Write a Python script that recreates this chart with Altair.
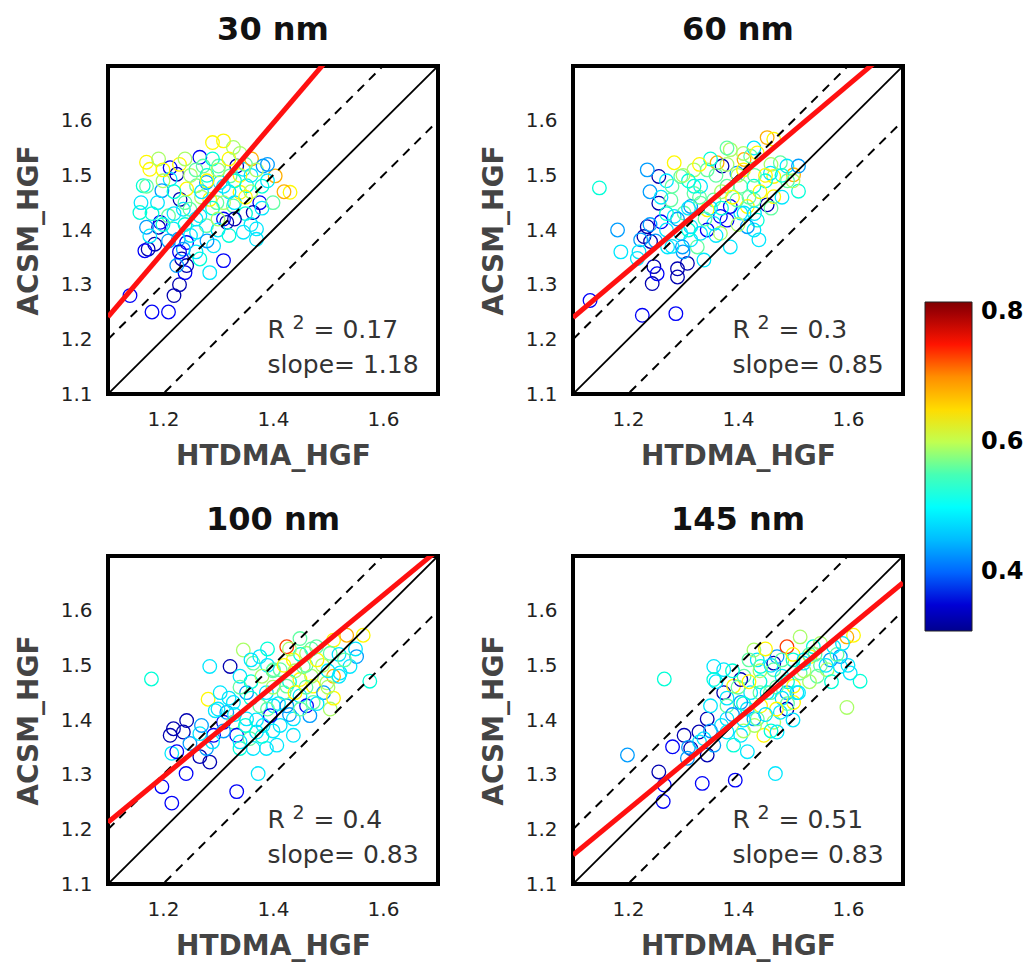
import altair as alt
import pandas as pd

FONT = "DejaVu Sans"

titles = ["30 nm", "60 nm", "100 nm", "145 nm"]
slopes = [1.18, 0.85, 0.83, 0.83]
intercepts = [-0.057, 0.305, 0.30, 0.24]
r2_values = ["0.17", "0.3", "0.4", "0.51"]

# ---- panel 1 (30 nm)
p1_x = [1.14, 1.18, 1.21, 1.22, 1.23, 1.24, 1.234, 1.243, 1.225, 1.267, 1.31, 1.285, 1.173, 1.185, 1.167,
        1.192, 1.195, 1.17, 1.176, 1.158, 1.164, 1.176, 1.17, 1.192, 1.213, 1.225, 1.213, 1.198, 1.231, 1.237,
        1.267, 1.273, 1.301, 1.31, 1.328, 1.334, 1.346, 1.361, 1.382, 1.404, 1.431, 1.376, 1.364, 1.37, 1.37,
        1.346, 1.316, 1.31, 1.298, 1.279, 1.261, 1.243, 1.249, 1.267, 1.279, 1.261, 1.243, 1.228, 1.219, 1.21,
        1.237, 1.292, 1.328, 1.34, 1.352, 1.322, 1.304, 1.285, 1.25, 1.29, 1.32, 1.27, 1.22, 1.30, 1.35,
        1.34, 1.26, 1.19, 1.42, 1.39, 1.33, 1.16, 1.28, 1.31, 1.24, 1.36]
p1_y = [1.28, 1.25, 1.25, 1.28, 1.30, 1.322, 1.347, 1.335, 1.335, 1.347, 1.344, 1.322, 1.365, 1.374, 1.362,
        1.405, 1.414, 1.405, 1.389, 1.432, 1.481, 1.511, 1.524, 1.53, 1.514, 1.502, 1.493, 1.472, 1.456, 1.438,
        1.533, 1.517, 1.517, 1.563, 1.551, 1.517, 1.511, 1.53, 1.517, 1.499, 1.469, 1.45, 1.432, 1.402, 1.383,
        1.396, 1.414, 1.42, 1.45, 1.487, 1.481, 1.475, 1.438, 1.426, 1.408, 1.396, 1.377, 1.383, 1.402, 1.426,
        1.365, 1.371, 1.444, 1.469, 1.481, 1.499, 1.487, 1.456, 1.50, 1.53, 1.47, 1.46, 1.47, 1.40, 1.43,
        1.50, 1.42, 1.45, 1.47, 1.49, 1.42, 1.45, 1.50, 1.45, 1.41, 1.47]
p1_c = [0.37, 0.37, 0.37, 0.33, 0.33, 0.37, 0.33, 0.33, 0.43, 0.53, 0.37, 0.48, 0.33, 0.33, 0.37,
        0.33, 0.37, 0.43, 0.48, 0.53, 0.53, 0.63, 0.63, 0.59, 0.37, 0.33, 0.48, 0.43, 0.33, 0.48,
        0.37, 0.56, 0.56, 0.63, 0.59, 0.33, 0.48, 0.68, 0.43, 0.68, 0.63, 0.37, 0.33, 0.48, 0.48,
        0.48, 0.33, 0.37, 0.56, 0.43, 0.56, 0.63, 0.56, 0.48, 0.56, 0.48, 0.37, 0.43, 0.48, 0.56,
        0.43, 0.48, 0.56, 0.63, 0.53, 0.56, 0.48, 0.63, 0.59, 0.53, 0.48, 0.59, 0.53, 0.48, 0.53,
        0.63, 0.48, 0.48, 0.68, 0.48, 0.33, 0.48, 0.53, 0.59, 0.53, 0.59]
p1_core_x = [1.20, 1.23, 1.26, 1.28, 1.30, 1.32, 1.33, 1.35, 1.36, 1.38, 1.37, 1.31, 1.29, 1.27, 1.24, 1.22,
             1.20, 1.25, 1.28, 1.30, 1.33, 1.35, 1.38, 1.40, 1.36, 1.32, 1.26, 1.23, 1.21, 1.18, 1.17, 1.20,
             1.24, 1.29, 1.34, 1.39]
p1_core_y = [1.49, 1.52, 1.51, 1.49, 1.51, 1.53, 1.49, 1.52, 1.50, 1.48, 1.51, 1.48, 1.44, 1.47, 1.45, 1.43,
             1.41, 1.39, 1.38, 1.42, 1.45, 1.46, 1.44, 1.45, 1.41, 1.39, 1.36, 1.36, 1.38, 1.43, 1.48, 1.51,
             1.53, 1.56, 1.54, 1.52]
p1_core_c = [0.59, 0.63, 0.56, 0.63, 0.59, 0.63, 0.53, 0.56, 0.48, 0.53, 0.59, 0.48, 0.53, 0.48, 0.56, 0.48,
             0.53, 0.48, 0.43, 0.59, 0.48, 0.63, 0.48, 0.56, 0.48, 0.53, 0.48, 0.37, 0.43, 0.53, 0.56, 0.63,
             0.59, 0.63, 0.59, 0.43]

# ---- panel 2 (60 nm)
p2_x = [1.131, 1.148, 1.181, 1.187, 1.217, 1.226, 1.287, 1.244, 1.247, 1.253, 1.29, 1.308, 1.29, 1.235, 1.229,
        1.241, 1.256, 1.256, 1.235, 1.26, 1.223, 1.278, 1.284, 1.272, 1.296, 1.302, 1.314, 1.326, 1.338, 1.32,
        1.296, 1.284, 1.344, 1.362, 1.371, 1.398, 1.411, 1.386, 1.429, 1.423, 1.435, 1.453, 1.465, 1.477, 1.465,
        1.459, 1.489, 1.501, 1.51, 1.51, 1.453, 1.465, 1.429, 1.417, 1.405, 1.38, 1.386, 1.368, 1.356, 1.344,
        1.332, 1.356, 1.38, 1.405, 1.429, 1.332, 1.32, 1.332, 1.344, 1.314, 1.435, 1.429, 1.438, 1.411, 1.386,
        1.368, 1.314, 1.299, 1.398, 1.417, 1.37, 1.31, 1.40, 1.45, 1.49, 1.35, 1.27, 1.24, 1.30]
p2_y = [1.271, 1.477, 1.40, 1.36, 1.348, 1.244, 1.247, 1.302, 1.333, 1.32, 1.329, 1.339, 1.314, 1.406, 1.388,
        1.379, 1.449, 1.498, 1.51, 1.415, 1.382, 1.455, 1.425, 1.369, 1.394, 1.431, 1.406, 1.369, 1.345, 1.51,
        1.498, 1.523, 1.51, 1.523, 1.517, 1.504, 1.529, 1.547, 1.55, 1.535, 1.541, 1.569, 1.566, 1.523, 1.498,
        1.504, 1.517, 1.501, 1.517, 1.471, 1.446, 1.461, 1.455, 1.443, 1.431, 1.418, 1.443, 1.425, 1.412, 1.40,
        1.394, 1.455, 1.48, 1.48, 1.48, 1.48, 1.467, 1.449, 1.437, 1.443, 1.418, 1.40, 1.382, 1.431, 1.369,
        1.394, 1.382, 1.369, 1.455, 1.406, 1.47, 1.49, 1.50, 1.49, 1.49, 1.53, 1.49, 1.47, 1.36]
p2_c = [0.37, 0.53, 0.43, 0.48, 0.48, 0.37, 0.37, 0.33, 0.33, 0.37, 0.33, 0.33, 0.33, 0.33, 0.33,
        0.33, 0.33, 0.33, 0.43, 0.37, 0.43, 0.56, 0.48, 0.48, 0.48, 0.56, 0.48, 0.56, 0.48, 0.59,
        0.56, 0.63, 0.56, 0.68, 0.33, 0.43, 0.68, 0.59, 0.48, 0.56, 0.63, 0.68, 0.63, 0.56, 0.63,
        0.48, 0.48, 0.68, 0.43, 0.53, 0.33, 0.63, 0.56, 0.63, 0.48, 0.37, 0.37, 0.37, 0.48, 0.37,
        0.48, 0.56, 0.56, 0.56, 0.53, 0.48, 0.56, 0.56, 0.63, 0.43, 0.53, 0.48, 0.48, 0.48, 0.48,
        0.59, 0.48, 0.43, 0.56, 0.43, 0.59, 0.53, 0.59, 0.53, 0.56, 0.53, 0.48, 0.43, 0.43]
p2_core_x = [1.26, 1.28, 1.30, 1.33, 1.36, 1.38, 1.41, 1.43, 1.46, 1.48, 1.44, 1.42, 1.39, 1.37, 1.35, 1.33,
             1.31, 1.29, 1.27, 1.25, 1.28, 1.31, 1.34, 1.36, 1.40, 1.43, 1.46, 1.48, 1.45, 1.41, 1.38, 1.32,
             1.27, 1.24, 1.22, 1.50]
p2_core_y = [1.46, 1.48, 1.50, 1.52, 1.50, 1.52, 1.51, 1.50, 1.52, 1.50, 1.47, 1.46, 1.46, 1.44, 1.44, 1.46,
             1.44, 1.42, 1.40, 1.38, 1.37, 1.40, 1.42, 1.39, 1.41, 1.43, 1.44, 1.46, 1.50, 1.54, 1.55, 1.48,
             1.43, 1.41, 1.36, 1.49]
p2_core_c = [0.48, 0.56, 0.59, 0.63, 0.56, 0.59, 0.63, 0.56, 0.59, 0.53, 0.63, 0.56, 0.63, 0.53, 0.48, 0.56,
             0.48, 0.43, 0.48, 0.43, 0.48, 0.53, 0.56, 0.48, 0.59, 0.48, 0.56, 0.48, 0.63, 0.59, 0.56, 0.53,
             0.53, 0.43, 0.48, 0.59]

# ---- panel 3 (100 nm)
p3_x = [1.179, 1.198, 1.216, 1.334, 1.373, 1.242, 1.213, 1.219, 1.243, 1.237, 1.249, 1.267, 1.285, 1.279, 1.292,
        1.216, 1.225, 1.267, 1.285, 1.322, 1.282, 1.304, 1.316, 1.31, 1.295, 1.328, 1.334, 1.34, 1.358, 1.37,
        1.352, 1.376, 1.388, 1.352, 1.34, 1.364, 1.346, 1.376, 1.401, 1.425, 1.449, 1.437, 1.461, 1.479, 1.51,
        1.504, 1.534, 1.564, 1.552, 1.54, 1.522, 1.576, 1.51, 1.498, 1.473, 1.449, 1.425, 1.401, 1.425, 1.449,
        1.461, 1.492, 1.504, 1.467, 1.437, 1.413, 1.395, 1.382, 1.437, 1.407, 1.364, 1.473, 1.328, 1.413, 1.455,
        1.388, 1.47, 1.43, 1.40, 1.39, 1.45, 1.49, 1.52, 1.36, 1.42, 1.51]
p3_y = [1.475, 1.278, 1.248, 1.269, 1.302, 1.302, 1.372, 1.384, 1.399, 1.378, 1.357, 1.333, 1.323, 1.348, 1.372,
        1.339, 1.342, 1.375, 1.498, 1.498, 1.438, 1.45, 1.414, 1.396, 1.417, 1.396, 1.372, 1.348, 1.366, 1.378,
        1.402, 1.426, 1.45, 1.45, 1.48, 1.504, 1.528, 1.516, 1.492, 1.534, 1.549, 1.51, 1.522, 1.534, 1.546,
        1.522, 1.555, 1.555, 1.516, 1.498, 1.486, 1.471, 1.48, 1.468, 1.462, 1.474, 1.462, 1.426, 1.426, 1.444,
        1.426, 1.45, 1.42, 1.408, 1.402, 1.39, 1.408, 1.39, 1.372, 1.354, 1.348, 1.432, 1.432, 1.492, 1.498,
        1.348, 1.48, 1.47, 1.46, 1.50, 1.52, 1.50, 1.52, 1.44, 1.45, 1.44]
p3_c = [0.53, 0.37, 0.37, 0.37, 0.48, 0.37, 0.33, 0.33, 0.33, 0.33, 0.43, 0.33, 0.33, 0.43, 0.37,
        0.48, 0.37, 0.48, 0.48, 0.33, 0.63, 0.48, 0.43, 0.37, 0.48, 0.56, 0.37, 0.53, 0.56, 0.48,
        0.48, 0.56, 0.48, 0.43, 0.48, 0.56, 0.59, 0.48, 0.56, 0.74, 0.56, 0.63, 0.59, 0.56, 0.63,
        0.56, 0.68, 0.63, 0.43, 0.48, 0.48, 0.53, 0.68, 0.59, 0.63, 0.63, 0.56, 0.48, 0.43, 0.48,
        0.37, 0.43, 0.59, 0.43, 0.48, 0.48, 0.37, 0.48, 0.48, 0.48, 0.48, 0.56, 0.48, 0.56, 0.56,
        0.48, 0.59, 0.53, 0.59, 0.48, 0.53, 0.59, 0.48, 0.53, 0.56, 0.63]
p3_core_x = [1.32, 1.34, 1.36, 1.38, 1.40, 1.42, 1.44, 1.46, 1.48, 1.50, 1.53, 1.55, 1.46, 1.44, 1.41, 1.39,
             1.37, 1.35, 1.33, 1.31, 1.29, 1.30, 1.34, 1.38, 1.40, 1.43, 1.45, 1.48, 1.50, 1.47, 1.43, 1.39,
             1.36, 1.52, 1.27]
p3_core_y = [1.44, 1.46, 1.47, 1.48, 1.49, 1.50, 1.49, 1.50, 1.51, 1.49, 1.51, 1.53, 1.46, 1.45, 1.43, 1.42,
             1.40, 1.39, 1.41, 1.38, 1.36, 1.42, 1.36, 1.37, 1.38, 1.41, 1.42, 1.43, 1.46, 1.53, 1.53, 1.53,
             1.51, 1.48, 1.39]
p3_core_c = [0.48, 0.56, 0.53, 0.59, 0.56, 0.63, 0.59, 0.56, 0.63, 0.48, 0.56, 0.48, 0.56, 0.63, 0.48, 0.56,
             0.48, 0.53, 0.48, 0.43, 0.48, 0.48, 0.48, 0.53, 0.48, 0.43, 0.56, 0.48, 0.59, 0.56, 0.59, 0.53,
             0.48, 0.48, 0.43]

# ---- panel 4 (145 nm)
p4_x = [1.199, 1.266, 1.256, 1.266, 1.264, 1.335, 1.395, 1.468, 1.281, 1.302, 1.314, 1.308, 1.329, 1.344, 1.338,
        1.344, 1.356, 1.35, 1.356, 1.374, 1.356, 1.374, 1.38, 1.38, 1.392, 1.405, 1.417, 1.429, 1.417, 1.405,
        1.392, 1.411, 1.435, 1.441, 1.465, 1.471, 1.465, 1.453, 1.441, 1.435, 1.447, 1.465, 1.471, 1.489, 1.489,
        1.477, 1.501, 1.513, 1.489, 1.513, 1.537, 1.531, 1.519, 1.544, 1.568, 1.586, 1.598, 1.61, 1.574, 1.562,
        1.586, 1.604, 1.622, 1.598, 1.429, 1.405, 1.423, 1.38, 1.507, 1.459, 1.501, 1.49, 1.52, 1.47, 1.55,
        1.44, 1.41, 1.48, 1.53, 1.50]
p4_y = [1.336, 1.475, 1.305, 1.281, 1.251, 1.284, 1.29, 1.302, 1.351, 1.372, 1.348, 1.33, 1.378, 1.402, 1.366,
        1.336, 1.354, 1.426, 1.498, 1.492, 1.474, 1.45, 1.402, 1.378, 1.354, 1.372, 1.342, 1.402, 1.42, 1.432,
        1.462, 1.48, 1.51, 1.498, 1.504, 1.516, 1.492, 1.45, 1.426, 1.402, 1.372, 1.396, 1.378, 1.45, 1.42,
        1.414, 1.462, 1.486, 1.534, 1.552, 1.534, 1.516, 1.504, 1.48, 1.51, 1.516, 1.552, 1.555, 1.534, 1.492,
        1.498, 1.486, 1.471, 1.423, 1.528, 1.474, 1.45, 1.426, 1.45, 1.45, 1.432, 1.47, 1.49, 1.46, 1.50,
        1.47, 1.38, 1.44, 1.52, 1.51]
p4_c = [0.43, 0.53, 0.33, 0.37, 0.37, 0.37, 0.37, 0.48, 0.37, 0.33, 0.33, 0.43, 0.33, 0.33, 0.48,
        0.33, 0.43, 0.48, 0.48, 0.48, 0.53, 0.33, 0.48, 0.48, 0.53, 0.48, 0.48, 0.43, 0.48, 0.43,
        0.63, 0.56, 0.48, 0.53, 0.33, 0.43, 0.56, 0.48, 0.63, 0.56, 0.63, 0.59, 0.48, 0.43, 0.33,
        0.48, 0.63, 0.56, 0.74, 0.59, 0.53, 0.63, 0.48, 0.56, 0.43, 0.43, 0.68, 0.63, 0.48, 0.59,
        0.48, 0.48, 0.53, 0.59, 0.59, 0.33, 0.48, 0.56, 0.48, 0.56, 0.63, 0.53, 0.59, 0.56, 0.56,
        0.53, 0.59, 0.48, 0.56, 0.53]
p4_core_x = [1.38, 1.40, 1.42, 1.44, 1.46, 1.48, 1.50, 1.52, 1.54, 1.56, 1.58, 1.60, 1.57, 1.53, 1.51, 1.49,
             1.47, 1.45, 1.43, 1.41, 1.39, 1.37, 1.35, 1.33, 1.31, 1.36, 1.39, 1.42, 1.45, 1.48, 1.44, 1.41,
             1.55, 1.59, 1.50, 1.46]
p4_core_y = [1.44, 1.46, 1.47, 1.49, 1.50, 1.51, 1.52, 1.51, 1.52, 1.50, 1.52, 1.50, 1.47, 1.47, 1.45, 1.43,
             1.42, 1.41, 1.39, 1.40, 1.41, 1.39, 1.38, 1.36, 1.35, 1.47, 1.49, 1.51, 1.53, 1.48, 1.45, 1.43,
             1.54, 1.54, 1.40, 1.38]
p4_core_c = [0.48, 0.56, 0.63, 0.59, 0.48, 0.56, 0.63, 0.48, 0.56, 0.48, 0.56, 0.48, 0.53, 0.59, 0.48, 0.56,
             0.63, 0.48, 0.59, 0.48, 0.43, 0.48, 0.43, 0.48, 0.43, 0.48, 0.53, 0.56, 0.63, 0.48, 0.56, 0.53,
             0.59, 0.48, 0.48, 0.53]

panels_x = [p1_x + p1_core_x, p2_x + p2_core_x, p3_x + p3_core_x, p4_x + p4_core_x]
panels_y = [p1_y + p1_core_y, p2_y + p2_core_y, p3_y + p3_core_y, p4_y + p4_core_y]
panels_c = [p1_c + p1_core_c, p2_c + p2_core_c, p3_c + p3_core_c, p4_c + p4_core_c]

AX_MIN, AX_MAX = 1.1, 1.7
x_ticks = [1.2, 1.4, 1.6]
y_ticks = [1.1, 1.2, 1.3, 1.4, 1.5, 1.6]

# jet colormap
jet_domain = [0.31, 0.373, 0.499, 0.626, 0.752, 0.815]
jet_range = ["#00008f", "#0000ff", "#00ffff", "#ffff00", "#ff0000", "#800000"]


def panel(i):
    pts = pd.DataFrame({"x": panels_x[i], "y": panels_y[i], "v": panels_c[i]})
    xs = [AX_MIN, AX_MAX]
    one = pd.DataFrame({"x": xs, "y": xs})
    dash = pd.DataFrame({
        "x": xs + xs,
        "y": [v + 0.1 for v in xs] + [v - 0.1 for v in xs],
        "k": ["up", "up", "down", "down"],
    })
    fit = pd.DataFrame({"x": xs, "y": [slopes[i] * v + intercepts[i] for v in xs]})

    xsc = alt.Scale(domain=[AX_MIN, AX_MAX], nice=False, zero=False)
    ysc = alt.Scale(domain=[AX_MIN, AX_MAX], nice=False, zero=False)
    xax = alt.Axis(values=x_ticks, format=".1f", title="HTDMA_HGF", grid=False, domain=False,
                   ticks=False, labelFontSize=20, labelColor="#222", labelFont=FONT,
                   labelPadding=15, titleFontSize=28, titleFontWeight="bold", titleColor="#444",
                   titleFont=FONT, titlePadding=13)
    yax = alt.Axis(values=y_ticks, format=".1f", title="ACSM_HGF", grid=False, domain=False,
                   ticks=False, labelFontSize=20, labelColor="#222", labelFont=FONT,
                   labelPadding=16, titleFontSize=28, titleFontWeight="bold", titleColor="#444",
                   titleFont=FONT, titlePadding=17)

    X = alt.X("x:Q", scale=xsc, axis=xax)
    Y = alt.Y("y:Q", scale=ysc, axis=yax)

    legend = None
    if i == 0:
        legend = alt.Legend(orient="none", legendX=817, legendY=236, direction="vertical",
                            gradientLength=329, gradientThickness=47, title=None,
                            values=[0.4, 0.6, 0.8], format=".1f", labelFontSize=24,
                            labelFontWeight="bold", labelColor="black", labelFont=FONT,
                            gradientStrokeColor="#222", gradientStrokeWidth=1, labelOffset=9,
                            gradientOpacity=1)

    points = alt.Chart(pts).mark_point(shape="circle", filled=False, size=185, strokeWidth=1.3,
                                       opacity=1).encode(
        x=X, y=Y,
        color=alt.Color("v:Q", scale=alt.Scale(domain=jet_domain, range=jet_range), legend=legend),
    )
    l1 = alt.Chart(one).mark_line(color="black", strokeWidth=1.8, clip=True).encode(x=X, y=Y)
    l2 = alt.Chart(dash).mark_line(color="black", strokeWidth=2, strokeDash=[9, 7], clip=True).encode(
        x=X, y=Y, detail="k:N")
    l3 = alt.Chart(fit).mark_line(color="#ff1010", strokeWidth=5, clip=True).encode(x=X, y=Y)

    ann = pd.DataFrame({"x": [1.39], "yr": [1.203], "ys": [1.138],
                        "r2": ["= " + r2_values[i]], "sl": ["slope= " + f"{slopes[i]:.2f}"]})
    txt_kw = dict(font=FONT, fontSize=25, color="#333", align="left", baseline="alphabetic")
    t_r = alt.Chart(ann).mark_text(text="R", **txt_kw).encode(x=X, y=alt.Y("yr:Q", scale=ysc, axis=yax))
    t_2 = alt.Chart(ann).mark_text(font=FONT, fontSize=19, color="#333", align="left",
                                   baseline="alphabetic", dx=25, dy=-9, text="2").encode(
        x=X, y=alt.Y("yr:Q", scale=ysc, axis=yax))
    t_eq = alt.Chart(ann).mark_text(dx=46, **txt_kw).encode(
        x=X, y=alt.Y("yr:Q", scale=ysc, axis=yax), text="r2:N")
    t_sl = alt.Chart(ann).mark_text(**txt_kw).encode(
        x=X, y=alt.Y("ys:Q", scale=ysc, axis=yax), text="sl:N")

    return alt.layer(points, l1, l2, l3, t_r, t_2, t_eq, t_sl).properties(
        width=330, height=328,
        title=alt.TitleParams(titles[i], fontSize=32, fontWeight="bold", font=FONT, color="#111",
                              anchor="middle", offset=19),
    )


row1 = alt.hconcat(panel(0), panel(1), spacing=38)
row2 = alt.hconcat(panel(2), panel(3), spacing=38)
chart = alt.vconcat(row1, row2, spacing=30).resolve_scale(color="shared").properties(
    padding={"left": 5, "top": 4, "right": 0, "bottom": 0}
).configure_view(stroke="black", strokeWidth=4)

chart.save("out.html", embed_options={"renderer": "svg", "actions": False})
